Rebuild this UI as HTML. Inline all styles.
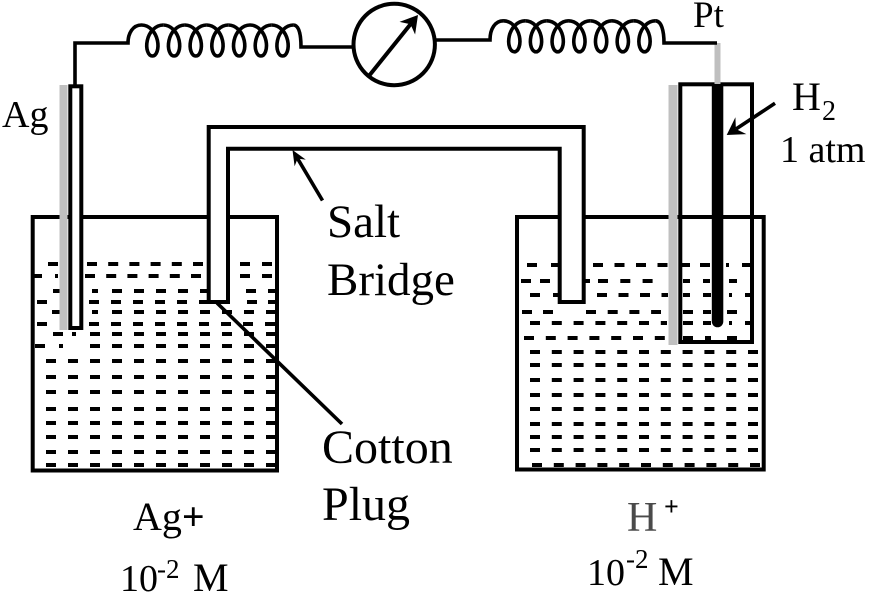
<!DOCTYPE html>
<html><head><meta charset="utf-8"><style>
html,body{margin:0;padding:0;background:#fff;overflow:hidden}
svg{display:block}
text{font-family:"Liberation Serif","Times New Roman",serif;fill:#000}
</style></head><body>
<svg width="869" height="593" viewBox="0 0 869 593" xmlns="http://www.w3.org/2000/svg">
<defs>
<path id="cyc" d="M0,-15.5 C7.61,-15.5 14.12,-8.56 15.93,0 C17.74,8.56 14.84,15.5 10.85,15.5 C6.86,15.5 3.97,8.56 5.78,0 C7.59,-8.56 14.09,-15.5 21.7,-15.5" fill="none" stroke="#000" stroke-width="3.6"/>
</defs>
<rect width="869" height="593" fill="#fff"/>

<!-- liquid dashes left beaker -->
<g stroke="#000" stroke-width="4" fill="none">
<line x1="48" y1="264" x2="58" y2="264"/>
<line x1="87" y1="264" x2="203" y2="264" stroke-dasharray="10 11.2"/>
<line x1="240" y1="264" x2="272" y2="264" stroke-dasharray="10 12"/>
<line x1="33" y1="276" x2="42" y2="276"/>
<line x1="55" y1="276" x2="58" y2="276"/>
<line x1="85" y1="276" x2="201" y2="276" stroke-dasharray="10 11.2"/>
<line x1="240" y1="276" x2="272" y2="276" stroke-dasharray="10 12"/>
<line x1="53" y1="291" x2="63" y2="291"/>
<line x1="92" y1="291" x2="98" y2="291"/>
<line x1="112" y1="291" x2="208" y2="291" stroke-dasharray="10 12"/>
<line x1="246" y1="291" x2="276" y2="291" stroke-dasharray="10 12"/>
<line x1="37" y1="302" x2="47" y2="302"/>
<line x1="89" y1="302" x2="208" y2="302" stroke-dasharray="10 12"/>
<line x1="247" y1="302" x2="276" y2="302" stroke-dasharray="10 11"/>
<line x1="52" y1="312" x2="62" y2="312"/>
<line x1="92" y1="312" x2="98" y2="312"/>
<line x1="112" y1="312" x2="276" y2="312" stroke-dasharray="10 12"/>
<line x1="37" y1="324" x2="47" y2="324"/>
<line x1="89" y1="324" x2="99" y2="324"/>
<line x1="111" y1="324" x2="276" y2="324" stroke-dasharray="10 12"/>
<line x1="53" y1="334" x2="63" y2="334"/>
<line x1="72" y1="334" x2="76" y2="334"/>
<line x1="90" y1="334" x2="276" y2="334" stroke-dasharray="10 12"/>
<line x1="35" y1="346" x2="45" y2="346"/>
<line x1="59" y1="346" x2="63" y2="346"/>
<line x1="90" y1="346" x2="276" y2="346" stroke-dasharray="10 12"/>
<line x1="46" y1="361" x2="276" y2="361" stroke-dasharray="10 12"/>
<line x1="46" y1="377" x2="276" y2="377" stroke-dasharray="10 12"/>
<line x1="46" y1="392" x2="276" y2="392" stroke-dasharray="10 12"/>
<line x1="46" y1="409" x2="276" y2="409" stroke-dasharray="10 12"/>
<line x1="46" y1="423" x2="276" y2="423" stroke-dasharray="10 12"/>
<line x1="46" y1="437" x2="276" y2="437" stroke-dasharray="10 12"/>
<line x1="46" y1="452" x2="276" y2="452" stroke-dasharray="10 12"/>
<line x1="46" y1="465" x2="276" y2="465" stroke-dasharray="10 12"/>
</g>

<!-- liquid dashes right beaker -->
<g stroke="#000" stroke-width="4" fill="none">
<line x1="527" y1="265" x2="537" y2="265"/>
<line x1="551" y1="265" x2="560" y2="265"/>
<line x1="593" y1="265" x2="668" y2="265" stroke-dasharray="10 11.5"/>
<line x1="682" y1="265" x2="690" y2="265"/>
<line x1="700" y1="265" x2="710" y2="265"/>
<line x1="726" y1="265" x2="729" y2="265"/>
<line x1="742" y1="265" x2="752" y2="265"/>

<line x1="521" y1="281" x2="531" y2="281"/>
<line x1="540" y1="281" x2="550" y2="281"/>
<line x1="585" y1="281" x2="590" y2="281"/>
<line x1="598" y1="281" x2="653" y2="281" stroke-dasharray="10 12.3"/>
<line x1="683" y1="281" x2="690" y2="281"/>
<line x1="703" y1="281" x2="710" y2="281"/>
<line x1="729" y1="281" x2="737" y2="281"/>

<line x1="530" y1="295" x2="540" y2="295"/>
<line x1="553" y1="295" x2="560" y2="295"/>
<line x1="597" y1="295" x2="668" y2="295" stroke-dasharray="10 11.5"/>
<line x1="683" y1="295" x2="690" y2="295"/>
<line x1="703" y1="295" x2="711" y2="295"/>
<line x1="729" y1="295" x2="732" y2="295"/>
<line x1="745" y1="295" x2="752" y2="295"/>

<line x1="522" y1="312" x2="532" y2="312"/>
<line x1="543" y1="312" x2="553" y2="312"/>
<line x1="586" y1="312" x2="661" y2="312" stroke-dasharray="10 11.7"/>
<line x1="683" y1="312" x2="693" y2="312"/>
<line x1="703" y1="312" x2="711" y2="312"/>
<line x1="727" y1="312" x2="737" y2="312"/>

<line x1="530" y1="323" x2="667" y2="323" stroke-dasharray="10 11.8"/>
<line x1="683" y1="323" x2="693" y2="323"/>
<line x1="703" y1="323" x2="711" y2="323"/>
<line x1="729" y1="323" x2="732" y2="323"/>
<line x1="745" y1="323" x2="752" y2="323"/>

<line x1="524" y1="338" x2="665" y2="338" stroke-dasharray="10 11.8"/>
<line x1="683" y1="338" x2="693" y2="338"/>
<line x1="705" y1="338" x2="711" y2="338"/>
<line x1="727" y1="338" x2="737" y2="338"/>

<line x1="530" y1="352" x2="758" y2="352" stroke-dasharray="10 11.8"/>
<line x1="530" y1="365" x2="758" y2="365" stroke-dasharray="10 11.8"/>
<line x1="530" y1="380" x2="758" y2="380" stroke-dasharray="10 11.8"/>
<line x1="530" y1="395" x2="758" y2="395" stroke-dasharray="10 11.8"/>
<line x1="530" y1="409" x2="758" y2="409" stroke-dasharray="10 11.8"/>
<line x1="530" y1="424" x2="758" y2="424" stroke-dasharray="10 11.8"/>
<line x1="530" y1="437" x2="758" y2="437" stroke-dasharray="10 11.8"/>
<line x1="530" y1="450" x2="758" y2="450" stroke-dasharray="10 11.8"/>
<line x1="532" y1="465" x2="760" y2="465" stroke-dasharray="10 11.8"/>
</g>

<!-- beakers -->
<g stroke="#000" stroke-width="4" fill="none" stroke-linejoin="miter">
<path d="M32.7,217 L32.7,470.5 L277,470.5 L277,217 Z"/>
<path d="M517,217 L517,469.5 L763.7,469.5 L763.7,217 Z"/>
</g>

<!-- salt bridge -->
<path d="M208.7,302 L208.7,127 L583.7,127 L583.7,302 L559.7,302 L559.7,148.7 L228,148.7 L228,302 Z" fill="#fff" stroke="#000" stroke-width="4"/>

<!-- Ag electrode -->
<rect x="59.5" y="85" width="8" height="245" fill="#c0c0c0"/>
<rect x="70.3" y="86.3" width="11" height="241.7" fill="#fff" stroke="#000" stroke-width="4"/>

<!-- H2 tube and Pt electrode -->
<rect x="668.5" y="85" width="9" height="260" fill="#c0c0c0"/>
<rect x="680.3" y="84.3" width="71.7" height="257.7" fill="none" stroke="#000" stroke-width="4"/>
<line x1="717.5" y1="43" x2="717.5" y2="86" stroke="#bfbfbf" stroke-width="6"/>
<path d="M711.8,84 V321.5 a5.75,5.75 0 0 0 11.5,0 V84 Z" fill="#000"/>

<!-- wires & coils -->
<g fill="none" stroke="#000" stroke-width="3.6" stroke-linecap="butt" stroke-linejoin="miter">
<path d="M75,86 L75,43 L128,43 C128,33 133,25 141.5,25"/>
<path d="M293.4,25 C299.5,25 301,36 301,47 L354,47"/>
<path d="M434.5,40 L490,40 C490,29 495,20.8 503.45,20.8"/>
<path d="M655.35,20.8 C661.5,20.8 664,31 664,43 L717,43"/>
</g>
<use href="#cyc" transform="translate(141.5,40.5)"/>
<use href="#cyc" transform="translate(163.2,40.5)"/>
<use href="#cyc" transform="translate(184.9,40.5)"/>
<use href="#cyc" transform="translate(206.6,40.5)"/>
<use href="#cyc" transform="translate(228.3,40.5)"/>
<use href="#cyc" transform="translate(250,40.5)"/>
<use href="#cyc" transform="translate(271.7,40.5)"/>

<use href="#cyc" transform="translate(503.45,36.3)"/>
<use href="#cyc" transform="translate(525.15,36.3)"/>
<use href="#cyc" transform="translate(546.85,36.3)"/>
<use href="#cyc" transform="translate(568.55,36.3)"/>
<use href="#cyc" transform="translate(590.25,36.3)"/>
<use href="#cyc" transform="translate(611.95,36.3)"/>
<use href="#cyc" transform="translate(633.65,36.3)"/>

<!-- galvanometer -->
<circle cx="394.2" cy="44.5" r="40.7" fill="#fff" stroke="#000" stroke-width="4"/>
<line x1="368.3" y1="76.7" x2="410.5" y2="24.3" stroke="#000" stroke-width="4"/>
<polygon points="418,15 399.5,21.9 410.5,24.3 415.1,34.5" fill="#000"/>

<!-- salt bridge pointer -->
<line x1="322.5" y1="200.5" x2="297.6" y2="158.6" stroke="#000" stroke-width="3.6"/>
<polygon points="292.5,150 305.8,159.6 297.6,158.6 294.6,166.2" fill="#000"/>

<!-- H2 pointer -->
<line x1="775" y1="103.3" x2="736" y2="129" stroke="#000" stroke-width="3.6"/>
<polygon points="726.7,135 735.4,117.3 735.9,129 746.4,134.1" fill="#000"/>

<!-- cotton plug pointer -->
<line x1="217" y1="303" x2="342" y2="424" stroke="#000" stroke-width="3.6"/>

<!-- labels -->
<text x="2" y="127" font-size="38">Ag</text>
<text x="693" y="27" font-size="37">Pt</text>
<text x="792" y="110" font-size="40">H</text>
<text x="822" y="120" font-size="28">2</text>
<text x="780" y="162" font-size="38">1 atm</text>
<text x="327" y="237" font-size="47">Salt</text>
<text x="327" y="295" font-size="47">Bridge</text>
<text x="322" y="463" font-size="48">Cotton</text>
<text x="322" y="520" font-size="48">Plug</text>

<text x="133" y="530" font-size="40">Ag<tspan font-weight="bold">+</tspan></text>
<text x="120" y="591" font-size="38">10</text>
<text x="157" y="578" font-size="27">-2</text>
<text x="193" y="591" font-size="40">M</text>

<text x="627" y="531" font-size="42" style="fill:#4a4a4a">H</text>
<text x="664" y="515" font-size="26" font-weight="bold">+</text>
<text x="587" y="585" font-size="38">10</text>
<text x="626" y="568" font-size="27">-2</text>
<text x="658" y="585" font-size="40">M</text>
</svg>
</body></html>
